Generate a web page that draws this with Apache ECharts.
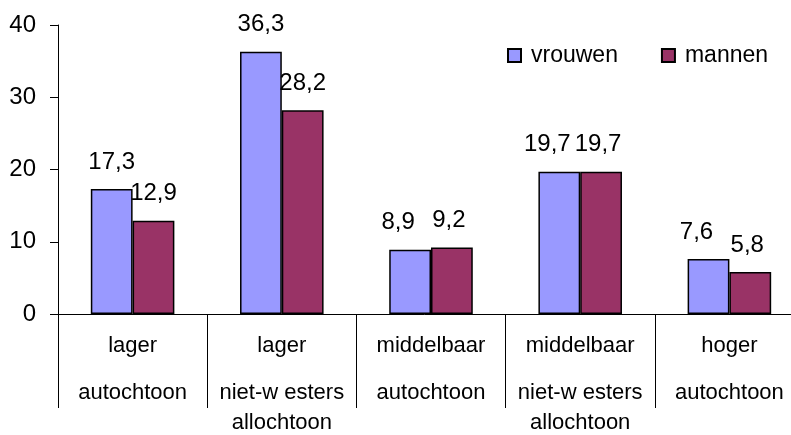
<!DOCTYPE html>
<html>
<head>
<meta charset="utf-8">
<script src="https://cdn.jsdelivr.net/npm/echarts@6/dist/echarts.min.js"></script>
<style>
  html, body { margin: 0; padding: 0; background: #fff; }
  #chart { width: 791px; height: 435px; }
</style>
</head>
<body>
<div id="chart"></div>
<script>
// categorieen (opleiding + herkomst)
const categories = [
  'lager\nautochtoon',
  'lager\nniet-w esters\nallochtoon',
  'middelbaar\nautochtoon',
  'middelbaar\nniet-w esters\nallochtoon',
  'hoger\nautochtoon'
];
const vrouwen = [17.3, 36.3, 8.9, 19.7, 7.6];
const mannen = [12.9, 28.2, 9.2, 19.7, 5.8];
const yTicks = { min: 0, max: 40, interval: 10 };

const font = "'Liberation Sans', Arial, sans-serif";
const komma = v => String(v.value).replace('.', ',');

const chart = echarts.init(document.getElementById('chart'));
function labelStyle(dx) {
  return {
    show: true,
    position: 'top',
    distance: 15,
    color: '#000',
    fontSize: 24,
    fontFamily: font,
    formatter: komma,
    offset: [dx, 0]
  };
}

// labels schuiven uit elkaar als ze elkaar zouden raken (gelijke waarden)
function withLabels(values, other, dx) {
  return values.map((v, i) => {
    const clash = Math.abs(v - other[i]) < 2;
    return clash ? { value: v, label: { offset: [dx, 0] } } : v;
  });
}

chart.setOption({
  animation: false,
  backgroundColor: '#fff',
  textStyle: { fontFamily: font },
  legend: {
    left: 502,
    top: 39,
    itemWidth: 13,
    itemHeight: 13,
    itemGap: 43,
    icon: 'rect',
    textStyle: { fontSize: 23, color: '#000', fontFamily: font, padding: [0, 0, 0, 5] },
    data: ['vrouwen', 'mannen']
  },
  grid: { left: 58, top: 25, width: 746, height: 289, outerBoundsMode: 'none', containLabel: false },
  xAxis: {
    type: 'category',
    data: categories,
    axisLine: { lineStyle: { color: '#000', width: 1 } },
    axisTick: { show: true, interval: 0, length: 94, lineStyle: { color: '#000' } },
    axisLabel: {
      interval: 0,
      margin: 0,
      color: '#000',
      formatter: function (val) {
        const lines = val.split('\n');
        return lines.map((l, i) => (i === 0 ? '{a|' : '{b|') + l + '}').join('\n');
      },
      rich: {
        a: { fontSize: 22, lineHeight: 64, fontFamily: font, color: '#000' },
        b: { fontSize: 22, lineHeight: 30, fontFamily: font, color: '#000' }
      }
    }
  },
  yAxis: {
    type: 'value',
    min: yTicks.min,
    max: yTicks.max,
    interval: yTicks.interval,
    splitLine: { show: false },
    axisLine: { show: true, lineStyle: { color: '#000', width: 1 } },
    axisTick: { show: true, length: 8, lineStyle: { color: '#000' } },
    axisLabel: { margin: 22, color: '#000', fontSize: 24, fontFamily: font }
  },
  series: [
    {
      name: 'vrouwen',
      type: 'bar',
      data: withLabels(vrouwen, mannen, -12),
      barGap: '0%',
      barCategoryGap: '44%',
      itemStyle: { color: '#9999FF', borderColor: '#000', borderWidth: 1.5 },
      label: labelStyle(0)
    },
    {
      name: 'mannen',
      type: 'bar',
      data: withLabels(mannen, vrouwen, -3),
      itemStyle: { color: '#993366', borderColor: '#000', borderWidth: 1.5 },
      label: labelStyle(0)
    }
  ]
});
window.addEventListener('resize', function () { chart.resize(); });
</script>
</body>
</html>
